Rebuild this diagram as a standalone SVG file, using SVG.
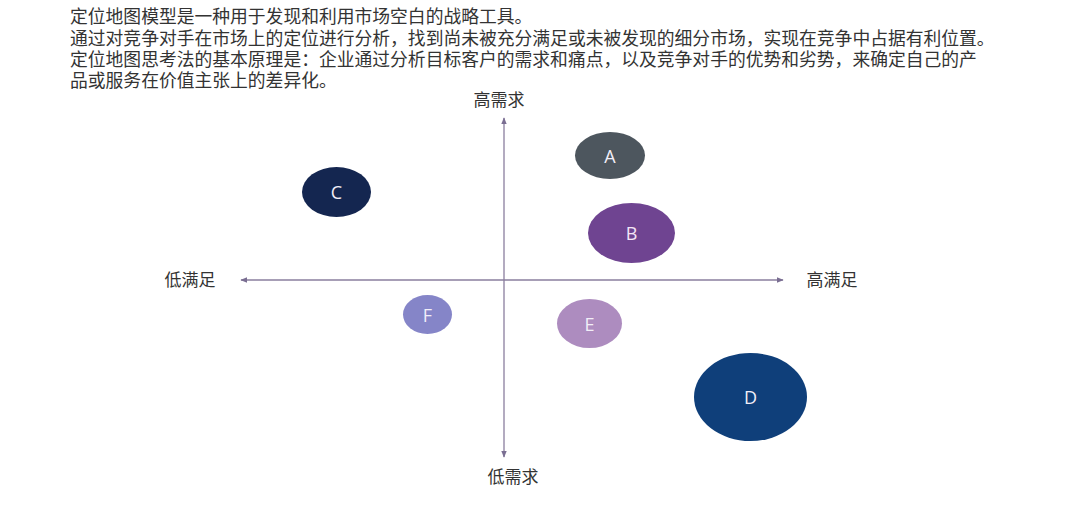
<svg xmlns="http://www.w3.org/2000/svg" width="1080" height="522" viewBox="0 0 1080 522">
<style>
.t{font-family:"Noto Sans CJK SC","Noto Sans",sans-serif;font-size:17.8px;fill:#333}
.ax{font-family:"Noto Sans CJK SC","Noto Sans",sans-serif;font-size:17px;fill:#333}
.lbl{font-family:"Open Sans","Noto Sans",sans-serif;font-size:18px;fill:#f2eef8;text-anchor:middle;dominant-baseline:central}
.axis{stroke:#8a7e9e;stroke-width:1.3;fill:none}
</style>
<defs>
<marker id="ar" viewBox="0 0 10 10" refX="9" refY="5" markerWidth="7" markerHeight="7" orient="auto-start-reverse" markerUnits="userSpaceOnUse">
<path d="M0,1 L10,5 L0,9 z" fill="#7a6e92"/>
</marker>
</defs>
<rect width="1080" height="522" fill="#fff"/>
<g id="intro">
<text class="t" x="70" y="23">定位地图模型是一种用于发现和利用市场空白的战略工具。</text>
<text class="t" x="70" y="45">通过对竞争对手在市场上的定位进行分析，找到尚未被充分满足或未被发现的细分市场，实现在竞争中占据有利位置。</text>
<text class="t" x="70" y="66">定位地图思考法的基本原理是：企业通过分析目标客户的需求和痛点，以及竞争对手的优势和劣势，来确定自己的产</text>
<text class="t" x="70" y="87">品或服务在价值主张上的差异化。</text>
</g>
<g id="connectors">
<line class="axis" x1="504" y1="280" x2="504" y2="118" marker-end="url(#ar)"/>
<line class="axis" x1="504" y1="280" x2="504" y2="457" marker-end="url(#ar)"/>
<line class="axis" x1="504" y1="280" x2="783" y2="280" marker-end="url(#ar)"/>
<line class="axis" x1="504" y1="280" x2="241" y2="280" marker-end="url(#ar)"/>
</g>
<g id="axis-labels">
<text class="ax" x="499" y="106" text-anchor="middle">高需求</text>
<text class="ax" x="513" y="483" text-anchor="middle">低需求</text>
<text class="ax" x="190" y="286" text-anchor="middle">低满足</text>
<text class="ax" x="832" y="286" text-anchor="middle">高满足</text>
</g>
<g id="node-A"><ellipse cx="610" cy="155.5" rx="35" ry="23.5" fill="#4d565e"/><text class="lbl" x="610" y="156">A</text></g>
<g id="node-B"><ellipse cx="631.5" cy="233" rx="43.5" ry="30" fill="#6f4491"/><text class="lbl" x="631.5" y="233" style="fill:#f4e6f6">B</text></g>
<g id="node-C"><ellipse cx="336.5" cy="192" rx="34.5" ry="25" fill="#142650"/><text class="lbl" x="336.5" y="192">C</text></g>
<g id="node-D"><ellipse cx="750.5" cy="397" rx="56.5" ry="44" fill="#0f3f7a"/><text class="lbl" x="750.5" y="397">D</text></g>
<g id="node-E"><ellipse cx="589.5" cy="323.5" rx="32.5" ry="24.5" fill="#ad8cbf"/><text class="lbl" x="589.5" y="324">E</text></g>
<g id="node-F"><ellipse cx="427.5" cy="314.5" rx="24.5" ry="19.5" fill="#8585c8"/><text class="lbl" x="427.5" y="315">F</text></g>
</svg>
